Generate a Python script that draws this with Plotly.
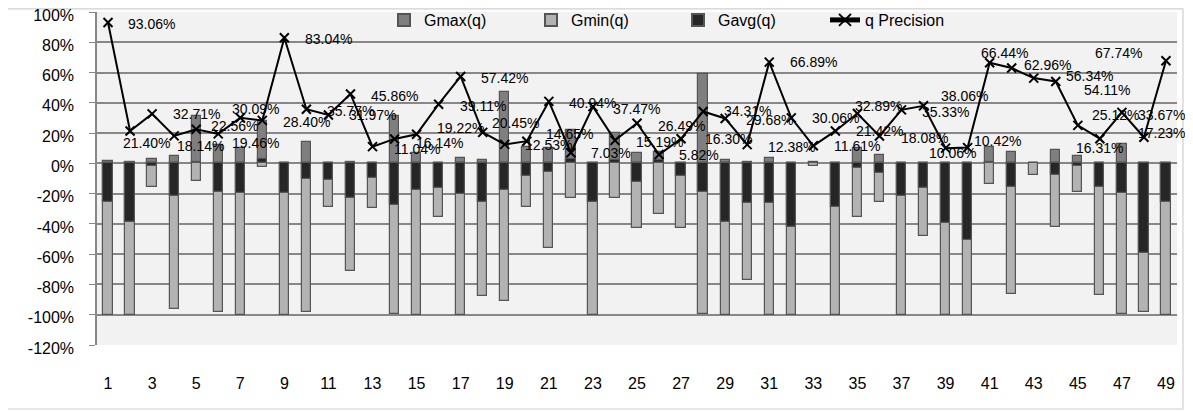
import plotly.graph_objects as go

# ---------------- data ----------------
categories = list(range(1, 50))

gmax = [1.7, 0.8, 2.8, 5.0, 31.0, 12.0, 10.0, 27.7, 0.0, 13.8,
        0.0, 1.0, 0.5, 31.0, 6.7, 0.0, 3.8, 1.9, 46.9, 11.1,
        10.0, 22.2, 0.0, 20.0, 6.7, 7.8, 0.5, 59.3, 2.3, 1.2,
        3.4, 0.0, 0.8, 0.0, 10.0, 5.6, 0.0, 0.0, 0.0, 0.0,
        11.1, 7.8, 0.5, 8.9, 5.0, 0.0, 12.9, 0.0, 0.5]

gmin = [-100.0, -100.0, -15.4, -95.9, -11.6, -98.0, -100.0, -2.5, -100.0, -98.5,
        -28.6, -71.0, -29.7, -99.5, -100.0, -35.2, -100.0, -87.7, -90.9, -28.6,
        -55.7, -22.6, -100.0, -22.6, -42.5, -33.4, -42.9, -99.5, -100.0, -77.2,
        -100.0, -100.0, -1.5, -100.0, -35.6, -25.7, -100.0, -47.8, -100.0, -100.0,
        -13.6, -86.4, -7.6, -41.8, -18.7, -87.1, -99.5, -98.0, -100.0]

gavg = [-25.3, -38.5, -2.0, -21.5, 1.0, -18.7, -19.8, 3.0, -19.8, -10.5,
        -11.0, -23.0, -9.8, -27.5, -17.5, -16.4, -20.2, -25.3, -17.5, -8.3,
        -5.4, 3.0, -25.3, 2.0, -12.0, 2.0, -8.3, -18.7, -38.5, -26.4,
        -26.4, -41.8, 0.0, -28.6, -3.2, -6.5, -21.5, -16.4, -39.6, -50.7,
        1.0, -15.8, 0.0, -7.6, -2.0, -15.8, -19.3, -59.0, -25.3]

q_precision = [93.06, 21.40, 32.71, 18.14, 22.56, 19.46, 30.09, 28.40, 83.04, 35.77,
               31.97, 45.86, 11.04, 16.14, 19.22, 39.11, 57.42, 20.45, 12.53, 14.65,
               40.94, 7.03, 37.47, 15.19, 26.49, 5.82, 16.30, 34.31, 29.68, 12.38,
               66.89, 30.06, 11.61, 21.42, 32.89, 18.08, 35.33, 38.06, 10.06, 10.42,
               66.44, 62.96, 56.34, 54.11, 25.12, 16.31, 33.67, 17.23, 67.74]

y_tick_values = [100, 80, 60, 40, 20, 0, -20, -40, -60, -80, -100, -120]
x_tick_values = list(range(1, 50, 2))

series_names = ["Gmax(q)", "Gmin(q)", "Gavg(q)", "q Precision"]

# ---------------- label placement (pixels, screen) ----------------
label_dx = [43, 16, 44, 26, 38, 37, 15, 44, 44, 44,
            44, 44, 44, 45, 44, 44, 44, 33, 44, 43,
            44, 40, 44, 45, 44, 40, 47, 44, 44, 44,
            44, 44, 44, 44, 21, 45, 44, 41, 7, 30,
            15, 36, 56, 51, 38, 0, 40, 18, -47]
label_dy = [1, 12, 0, 10, -3, 9, -9, 2, 1, 2,
            0, 2, 2, 4, -6, 2, 2, -9, 1, -7,
            2, 0, 2, 2, 3, 0, 0, 0, 2, 2,
            0, 0, 0, 0, -8, 2, 2, -10, 5, -7,
            -10, -3, -2, 9, -10, 9, 3, -4, -8]

FONT = "Liberation Sans, Arial, sans-serif"
GRID = "#878787"

fig = go.Figure()
bar_w = 0.42
fig.add_trace(go.Bar(x=categories, y=gmax, name=series_names[0], width=bar_w,
                     marker=dict(color="#7f7f7f", line=dict(color="#555555", width=1.2))))
fig.add_trace(go.Bar(x=categories, y=gmin, name=series_names[1], width=bar_w,
                     marker=dict(color="#b3b3b3", line=dict(color="#555555", width=1.2))))
fig.add_trace(go.Bar(x=categories, y=gavg, name=series_names[2], width=bar_w,
                     marker=dict(color="#262626", line=dict(color="#555555", width=1.2))))
fig.add_trace(go.Scatter(x=categories, y=q_precision, name=series_names[3],
                         mode="lines+markers",
                         line=dict(color="black", width=2),
                         marker=dict(symbol="x-thin", size=9, color="black",
                                     line=dict(color="black", width=2))))

annotations = []
for c, v, dx, dy in zip(categories, q_precision, label_dx, label_dy):
    annotations.append(dict(x=c, y=v, xref="x", yref="y", text=f"{v:.2f}%",
                            showarrow=False, xshift=dx, yshift=-dy,
                            font=dict(size=14, color="black", family=FONT)))

# page body has an 8px offset; geometry below expressed in screen pixels
OFF = 8
W, H = 1193, 412
plot_left, plot_right, plot_top, plot_bottom = 97, 1177, 12, 345
L = plot_left - OFF
R = W - (plot_right - OFF)
T = plot_top - OFF
B = H - (plot_bottom - OFF)
pw = plot_right - plot_left
ph = plot_bottom - plot_top


def px_x(p):
    return (p - plot_left) / pw


def px_y(p):
    return (plot_bottom - p) / ph


fig.update_layout(
    width=W, height=H,
    margin=dict(l=L, r=R, t=T, b=B, pad=0, autoexpand=False),
    paper_bgcolor="white",
    plot_bgcolor="#f2f2f2",
    barmode="overlay",
    bargap=0,
    font=dict(family=FONT, size=16, color="black"),
    showlegend=True,
    legend=dict(orientation="h", x=px_x(384), y=px_y(20), xanchor="left", yanchor="middle",
                bgcolor="rgba(0,0,0,0)", font=dict(size=16, family=FONT),
                entrywidth=102, entrywidthmode="pixels", traceorder="normal",
                itemsizing="constant"),
    annotations=annotations,
    shapes=[dict(type="rect", xref="paper", yref="paper",
                 x0=px_x(3), x1=px_x(1183), y0=px_y(409), y1=px_y(8.8),
                 line=dict(color="#d0d0d0", width=1.2), fillcolor="rgba(0,0,0,0)",
                 layer="below")],
    xaxis=dict(range=[0.5, 49.5], tickmode="array", tickvals=x_tick_values,
               ticktext=[str(v) for v in x_tick_values], showgrid=False,
               zeroline=False, showline=False, ticks="", ticklabelstandoff=27,
               tickfont=dict(size=16, family=FONT, color="black")),
    xaxis2=dict(range=[0.5, 49.5], overlaying="x", anchor="free",
                position=120 / 220, side="bottom", showgrid=False, zeroline=False,
                showline=True, linecolor=GRID, linewidth=1.5,
                ticks="inside", ticklen=5, tickwidth=1.2, tickcolor=GRID,
                tickmode="array", tickvals=[c + 0.5 for c in [0] + categories],
                showticklabels=False),
    yaxis=dict(range=[-120, 100], tickmode="array", tickvals=y_tick_values,
               ticktext=[f"{v}%" for v in y_tick_values],
               showgrid=True, gridcolor=GRID, gridwidth=1.5,
               zeroline=False, showline=True, linecolor=GRID, linewidth=1.5,
               ticks="outside", ticklen=6, tickcolor=GRID, tickwidth=1.2,
               ticklabelstandoff=12, ticklabeloverflow="allow", ticklabelshift=3,
               tickfont=dict(size=16, family=FONT, color="black")),
)

fig.write_html("out.html")
